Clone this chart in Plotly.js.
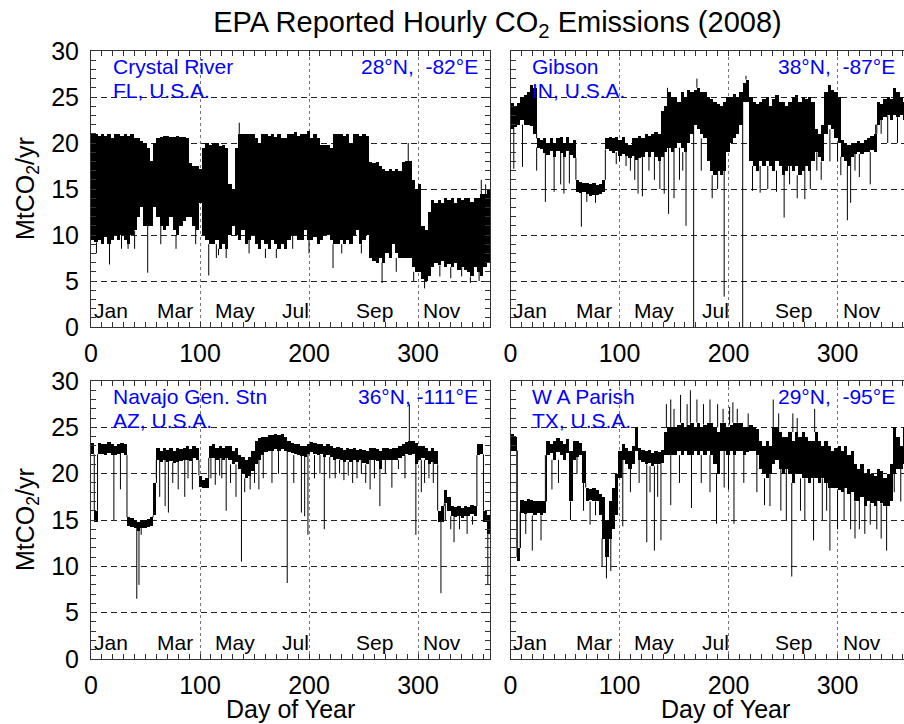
<!DOCTYPE html>
<html><head><meta charset="utf-8">
<script src="https://cdn.plot.ly/plotly-3.0.1.min.js"></script>
<style>html,body{margin:0;padding:0;overflow:hidden;background:#fff}#chart{width:912px;height:724px}</style>
</head><body><div id="chart"></div>
<script>
// sample start days (3-day windows)
const days = [0,3,6,9,12,15,18,21,24,27,30,33,36,39,42,45,48,51,54,57,60,63,66,69,72,75,78,81,84,87,90,93,96,99,102,105,108,111,114,117,120,123,126,129,132,135,138,141,144,147,150,153,156,159,162,165,168,171,174,177,180,183,186,189,192,195,198,201,204,207,210,213,216,219,222,225,228,231,234,237,240,243,246,249,252,255,258,261,264,267,270,273,276,279,282,285,288,291,294,297,300,303,306,309,312,315,318,321,324,327,330,333,336,339,342,345,348,351,354,357,360,363];
const monthNames = ["Jan","Mar","May","Jul","Sep","Nov"];
const monthDays = [18,77,132,188,260,322];
const xTickVals = [0,100,200,300];
const yTickVals = [0,5,10,15,20,25,30];

// Crystal River (FL)
const crHi = [21,21,20.8,21,20.8,21,20.5,21,21,20.8,
 21,20.8,21,20.5,20.5,20.2,20,19.5,18,20,
 20.5,20.6,20.8,20.8,20.7,20.7,20.8,20.7,20.7,20.5,
 17.8,17.5,17.5,17.2,19.5,20,19.8,20,20,19.7,
 19.8,19.5,15.5,15,19.5,21,21,21,21,21,
 20.5,20,21,21,20.8,21,20.7,21,20.5,20.5,
 21,21,21.2,20.8,21,21,21.3,20.5,21,20.5,
 19.8,19.8,19.8,19.5,21,21,21,20.8,21,20,
 21,21,20.8,21,20.8,17.9,17.8,17.9,17.5,17.2,
 17,17.2,17,17.2,17,17.9,18,18,16,15,
 15.5,11,10.5,12.5,13.8,13.5,13.8,13.5,14,13.8,
 14,13.5,14,13.8,14,14,13.6,14,14,14.5,14.5,15];
const crLo = [9.5,9.2,9.5,9,9.8,9,9.5,10,9.5,10,
 9.5,9,10,10.5,12,13,11,11,11,13,
 12,11,10.5,11,12,10.5,10,11,11.5,12,
 12,11,10.5,13.5,10,9.5,9,9,9.5,8.5,
 9,8.5,10,11,10,9.5,10.5,9,9.5,10,
 9,8.5,9.5,9,8.5,9.5,9,8.5,9,8.5,
 9.5,10,10,9.5,9.5,10.5,9.5,9.5,9.8,9,
 9.5,10,10,9.5,9,9,9.5,9,9.5,9,
 10,10.5,9,9.5,10,7.5,7.2,7,7.5,7,
 8,7.5,9,8,7.5,7.5,7.5,7.5,6.5,6,
 6,5.2,5,5.5,6.5,7,6.7,7.2,6.5,6.8,
 6.5,7,6.2,6.5,6.2,6,5.5,6.5,6,5.5,6.5,7];
const crSpDay = [5,17,28,34,40,52,64,78,96,108,115,117,124,136,145,160,170,185,200,222,230,248,267,280,291,296,306,320,330,340,348,356,358,362];
const crSpLo  = [8,6.8,8.5,8.5,8.5,5.9,9,8.5,9,5.6,7.5,7.8,7.5,21,8,7.5,7.5,8.5,8,6.4,8,8,4.8,6,18,5,4.2,5.5,5.3,5.5,4.8,5,14,14];
const crSpHi  = [9.2,9.5,10,9.5,10.5,11,11,10,12,9,9,8.5,8.5,22.2,9.5,8.5,8.5,10,9.5,9,9,9,7,7.5,20,6,5.5,6.7,6.5,6.5,5.5,6,16,15.5];

// Gibson (IN)
const gbHi = [24.3,24,24.3,25,25.2,25.5,26.3,26,20.5,20.3,
 20.5,20,20.5,20,20.5,20.6,20,20.7,20,20.3,
 16,15.8,15.7,15.6,15.5,15.6,15.4,15.5,16,20.5,
 20.7,20.5,20.6,20.3,20.6,20,19.8,20.5,20.5,20.8,
 20.5,21,20.8,21,21.2,21,23.5,24,25.5,25,
 25,24.5,25.5,25,25.8,25.5,25.8,26,25.5,25.5,
 25,24.8,24.5,24.2,24,24.5,25,25,25.3,25,
 25.5,26.5,26.9,25,24.5,24.2,24.5,24.8,25,24,
 24.8,25.2,24.5,24.5,24,24.5,25,25.2,24.5,25,
 24.8,25,24.5,21.5,21,22,25.5,26.3,25.8,25.5,
 25,20.3,20,19.8,20,20,20.2,20,20.3,20.5,
 20.8,21,24.5,24.2,24.8,25,24.8,26,25.5,25,24.5,24];
const gbLo = [21.5,21.7,22,22.5,22,22,21.8,21,19.5,19.3,
 18.9,18.7,19.1,18.5,19.1,18.9,18.5,19.1,18.7,18.4,
 14.7,14.6,14.7,14.5,14.2,14.4,14.3,14.5,14.7,19.3,
 19.1,18.9,19.1,18.6,18.8,18.6,18.4,18.6,18.1,18.4,
 18.5,19,18.5,19,18.5,18,18.5,19,19.5,19,
 19.5,20,19.5,19,20,21,22,21.5,21,20.5,
 18,17,16.5,17,16.5,17,19,20,20.5,21,
 22,24.5,24.5,18,17.5,17,18,17.5,18,17.5,
 17,18,17.5,16.5,17,17.5,17,17.5,16.5,17,
 17.5,17,18,19,18.5,18,21,22,21.5,20.5,
 20,18.5,18,17.5,18.5,18.8,19,18.8,19,19,
 19.2,19,22,22.5,22.8,23,22.5,23,22.8,23,22.5,22];
const gbSpDay = [3,11,24,32,40,46,49,54,65,70,78,97,106,117,121,132,145,150,161,168,196,213,222,229,244,251,263,270,281,300,309,312,320,330,346,355,362,
 100,110,114,127,137,141,155,158,175,185,190,236,256,275,285,293,303,316,335,340,144,171,216];
const gbSpLo  = [17.2,17.4,17,13.6,14.7,15.5,14.5,15.6,10.9,13.6,13.5,17.7,17.5,14.5,14.2,16,12.3,14,11,0,3.3,0,14.8,14.6,14.7,11.9,14,13.9,17,18,11.6,13.5,16.3,15.5,20,20,19,
 18,17,16,17,15,14.5,16,17,17,14,15,15,15.5,15,16,18,16.5,17,20,21,25.5,26,26.9];
const gbSpHi  = [22,22,19.5,19,19,19,19,19,15,14.8,14.6,19,19,18.8,18.5,18.5,19.5,19.5,20,22,17,24.5,17.5,17.5,17,17,16.5,17.5,19,20,17.5,18.5,18.8,19,23,22.8,22,
 19,18.6,18.6,18.5,18.5,19,19.5,19,20.5,16.5,17,17.5,17.5,17.5,18,21.5,18.5,18.8,22,22.5,26,27,27.3];

// Navajo Gen. Stn (AZ)
const nvHi = [23.3,16,23.3,23.2,23.2,23.4,23.2,23,23.2,23.3,
 23.2,15.3,15.2,15,14.8,15,15,15.1,15.3,19,
 22.8,22.5,22.8,22.6,22.8,22.5,22.8,22.7,22.8,23,
 22.7,23,22.8,19.8,19.3,19.5,23,23.2,22.8,23,
 22.8,23,23,22.5,22.8,22,21.8,21.5,21.8,22.5,
 23.5,23.8,24,24,24.2,24.2,24.3,24.2,24.3,24,
 23.5,23.3,23.2,23.2,23,23,23.2,23.4,23.3,23.2,
 23.2,23,23.2,23,22.8,22.9,22.8,22.6,22.8,22.7,
 22.8,22.6,22.7,22.6,22.5,22.8,22.8,22.7,22.5,22.8,
 22.8,22.7,22.8,22.8,23,23.2,23.4,23.5,23.5,23.3,
 23,23,22.8,22.5,22.8,22.5,16,16.5,18.2,17.5,
 16.5,16.4,16.5,16.3,16.5,16.4,16.6,16.5,23.2,23.2,16,15.5];
const nvLo = [22.1,14.8,22.1,22.1,22,22.2,22,22,22.1,22.2,
 22,14.4,14.2,14.1,13.8,14.1,14.1,14.2,14.4,15.5,
 21.5,21.3,21.5,21.3,21.4,21.1,21.3,21.4,21.5,21.5,
 21.4,21.7,21.5,18.6,18.4,18.4,21.7,21.7,21.5,21.7,
 21.5,21.7,21.5,21,21.3,20.5,20,19.5,19.8,20.3,
 21,21.5,22,22.3,22.5,22.5,22.7,22.5,22.7,22.5,
 22.3,22.2,22.1,22,21.9,21.8,22.1,22.3,22.1,22,
 22.1,21.8,22,21.8,21.5,21.6,21.5,21.3,21.5,21.3,
 21.5,21.3,21.5,21.1,21,21.5,21.5,21.4,20.5,21.5,
 21.5,21.5,21.5,21.5,21.7,21.9,22.1,22,22.1,21,
 21.5,21.7,21.5,21,21.3,21,14.8,14.8,16.8,16,
 15.4,15.3,15.4,15.2,15.4,15.4,15.6,15.4,22,22.1,14.8,13.5];
const nvSpDay = [21,27,42,44,46,63,68,71,80,86,93,110,114,120,124,138,146,154,166,180,193,196,199,214,224,232,240,248,256,260,265,276,292,298,310,314,321,333,338,345,364,
 60,75,89,118,128,133,141,150,158,172,186,205,210,219,228,236,244,252,270,282,288,303,306,325,330,350];
const nvSpLo  = [15,18.3,6.5,8,13.4,17.5,16.5,15.8,18.3,17.5,18.3,19.5,18.8,19.5,16,10.5,18.3,18.3,19,8.2,15.8,15.4,13.4,14,19.5,19.3,19,20,18.3,19.5,16.5,18.5,23.5,13.4,19.5,19,7.1,12.6,14,13.5,8,
 19.5,19,19.5,19.8,19,17.5,18,19,19.5,20,19,19.5,20,19.5,20,19.8,19.5,19,20,20.5,19.5,18,19,15,14,14.5];
const nvSpHi  = [22.5,22.7,14.2,14.5,14.5,21.8,21.8,21.8,21.9,21.9,22,22.2,22,22,22,20.5,20.3,22,23,22.8,22.4,22.3,22.4,22.3,22,21.8,22,21.6,22,22,21,22,27.5,21.5,21.5,21.5,15,15.7,15.6,15.8,13.5,
 21.5,21.2,21.5,21.7,21,21,19.5,21,22,22.5,22,22,22,21.8,21.5,21.3,21.5,21,21.5,21.5,22,21.5,21.5,16.8,15.4,15.4];

// W A Parish (TX)
const wpHi = [24.3,24,12,17.2,17,17.3,17.2,17,17.1,17,
 17,23.5,23.2,23.5,23.8,23.5,23.2,23.7,22.5,23.5,
 23.5,23.3,22.5,18.5,18.3,18.5,18.2,17.8,17.5,15,
 17,18.5,20,22.5,23.2,22.8,22.5,23,25,22.8,
 22.6,22.5,22.6,22.2,22.5,22.3,22.6,24.5,25,25,
 25,25.2,25.5,25,25.3,25.5,25,25.5,25,25.3,
 25.5,25.5,25,24.5,25.5,25.5,25,25.3,25.5,25.5,
 25.5,25,25,25.2,25,24.8,23.5,23,23.5,23,
 25,25,24.5,24,24,24.5,23.5,24.5,24,24.5,
 24,23.5,23.5,24.5,23.5,23,23.5,23,22.5,22.8,
 23,22.5,23,22,22.5,21,20.5,21,20,20.5,
 20,19.8,20.5,20.3,19.5,20,21,25,24,23,25,24];
const wpLo = [22.5,22.5,10.6,15.8,15.7,15.8,15.8,15.5,15.8,15.5,
 15.8,22,22.2,21.5,22.3,22,21.5,22.2,17,21.5,
 21.8,22,19,17,17.2,17,17,15.5,13,11,
 13,14,15.5,19.5,21.5,21,20.5,21,22.5,21.5,
 21.3,21,21.2,20.8,21,21,21.2,22,22,22,
 22,22.5,22,22.5,22,22,22.5,22,22.5,22,
 22.5,22,21,20,22.5,22.5,22,22.5,22,22.5,
 22.5,22,22.3,22.5,22.5,22,20.5,20,19.5,20,
 21,21.5,20.5,20,20.5,20,19,20,20,19.5,
 19.5,19,19.5,19.5,19,19.5,19,18.5,18.5,18.5,
 18.2,18,18.5,17.8,18,17,17,17.5,16.5,17,
 16.8,16.5,17,16.8,16.5,16.5,17,20,20.5,20.5,21,21];
const wpSpDay = [6,9,14,20,28,32,38,55,73,84,88,92,103,125,132,138,147,166,189,200,205,233,258,266,278,293,300,320,330,345,
 143,147,150,156,162,165,171,177,183,190,195,201,204,208,218,241,246,259,263,279,
 44,61,67,78,110,118,128,135,155,175,183,196,214,226,238,248,253,270,286,290,306,312,316,325,336,340,352,358];
const wpSpLo  = [11,12,13.5,11.7,12.8,17,18.3,15,14.5,10,8.7,9.5,14.3,12.6,11.7,12.8,16.6,16.3,14.6,18.3,14.6,16.6,8.9,16,12.8,11.7,14,14,14.5,11.7,
 25,25,25,25.5,25,25.5,25.5,25.3,25.5,25,25.5,25.3,25.5,25.5,25,25,24.5,24.5,24,24.5,
 19,20,16,15.5,18,19,18,17.5,19,19,18,18.5,19,18,16.5,16,15,15,15,16,15,14,13,13.5,14,13,18,17];
const wpSpHi  = [22.5,16,15.8,15.5,15.5,22,21.5,17,17,13,11,13,21.5,21,20.8,21.2,22,22,20,22,22,19.5,19,19.5,19.5,18.5,18.2,17.5,16.8,16.5,
 27.5,28,27,28.5,27.5,29,28,27.5,28,27.5,27,27.2,27.7,27,26.5,28,26.5,26.5,26,27,
 21.5,21.8,19,17,20.5,21.5,20.8,21,22,22,22,22.5,22,22,20,20.5,20.5,19.5,19.5,19,18.5,18,17,16.5,17,16.8,20,20.5];

const stations = [
  {name:"Crystal River", state:"FL, U.S.A.", coord:"28°N,\u00a0\u00a0-82°E", hi:crHi, lo:crLo, sd:crSpDay, sl:crSpLo, sh:crSpHi, ax:""},
  {name:"Gibson", state:"IN, U.S.A.", coord:"38°N,\u00a0\u00a0-87°E", hi:gbHi, lo:gbLo, sd:gbSpDay, sl:gbSpLo, sh:gbSpHi, ax:"2"},
  {name:"Navajo Gen. Stn", state:"AZ, U.S.A.", coord:"36°N,\u00a0-111°E", hi:nvHi, lo:nvLo, sd:nvSpDay, sl:nvSpLo, sh:nvSpHi, ax:"3"},
  {name:"W A Parish", state:"TX, U.S.A.", coord:"29°N,\u00a0\u00a0-95°E", hi:wpHi, lo:wpLo, sd:wpSpDay, sl:wpSpLo, sh:wpSpHi, ax:"4"}
];

const FONT = "Liberation Sans, Arial, Helvetica, sans-serif";
const W = 912, H = 724;
const traces = [];
const annotations = [];
stations.forEach((s, k) => {
  const xa = "x" + s.ax, ya = "y" + s.ax;
  traces.push({type:"bar", x:days, base:s.lo, y:s.hi.map((h,i)=>h - s.lo[i]), width:3, offset:0,
    marker:{color:"#000", line:{width:0}}, xaxis:xa, yaxis:ya, hoverinfo:"skip"});
  const sx = [], sy = [];
  s.sd.forEach((d,i)=>{ sx.push(d,d,null); sy.push(s.sl[i], s.sh[i], null); });
  for (let i = 0; i < days.length - 1; i++) {
    const top = Math.min(s.hi[i], s.hi[i+1]), bot = Math.max(s.lo[i], s.lo[i+1]);
    if (top < bot) { sx.push(days[i+1], days[i+1], null); sy.push(top, bot, null); }
  }
  traces.push({type:"scatter", mode:"lines", x:sx, y:sy, line:{color:"#000", width:1}, xaxis:xa, yaxis:ya, hoverinfo:"skip", connectgaps:false});
  const right = (k % 2 === 1);
  annotations.push({xref:xa, yref:ya, x:18.3, y:28.3, xanchor:"left", yanchor:"middle", text:s.name, showarrow:false, font:{family:FONT, size:21, color:"#0000ff"}});
  annotations.push({xref:xa, yref:ya, x:18.3, y:25.75, xanchor:"left", yanchor:"middle", text:s.state, showarrow:false, font:{family:FONT, size:21, color:"#0000ff"}});
  annotations.push({xref:xa, yref:ya, x:right ? 354.6 : 357, y:28.3, xanchor:"right", yanchor:"middle", text:s.coord, showarrow:false, font:{family:FONT, size:21, color:"#0000ff"}});
  monthNames.forEach((m,i)=>{
    annotations.push({xref:xa, yref:ya, x:monthDays[i], y:1.8, xanchor:"center", yanchor:"middle", text:m, showarrow:false, font:{family:FONT, size:21, color:"#000"}});
  });
});
[189, 520].forEach(yc => annotations.push({xref:"paper", yref:"paper", x:27/W, y:(H-yc)/H, xanchor:"center", yanchor:"middle", textangle:-90,
  text:"MtCO<sub>2</sub>/yr", showarrow:false, font:{family:FONT, size:25, color:"#000"}}));
[290, 725].forEach(xc => annotations.push({xref:"paper", yref:"paper", x:xc/W, y:0, xanchor:"center", yanchor:"bottom", borderpad:0,
  text:"Day of Year", showarrow:false, font:{family:FONT, size:25, color:"#000"}}));

function xAxis(dom, anchor){
  return {domain:dom, anchor:anchor, range:[0,366], tickmode:"array", tickvals:xTickVals, ticks:"inside", ticklen:5, tickcolor:"#333",
    showline:true, linecolor:"#333", linewidth:1, mirror:"ticks", showgrid:true, gridcolor:"#777", griddash:"dot", gridwidth:1,
    zeroline:false, tickfont:{family:FONT, size:25, color:"#000"}, ticklabelstandoff:4,
    minor:{dtick:10, tick0:0, ticks:"inside", ticklen:5, tickcolor:"#333", showgrid:false}, fixedrange:true};
}
function yAxis(dom, anchor, labels){
  return {domain:dom, anchor:anchor, range:[0,30], tickmode:"array", tickvals:yTickVals, ticks:"inside", ticklen:5, tickcolor:"#333",
    showline:true, linecolor:"#333", linewidth:1, mirror:"ticks", showgrid:true, gridcolor:"#222", griddash:"6px,4px", gridwidth:1,
    zeroline:false, showticklabels:labels, tickfont:{family:FONT, size:25, color:"#000"}, ticklabelstandoff:6,
    minor:{dtick:1, tick0:0, ticks:"inside", ticklen:5, tickcolor:"#333", showgrid:false}, fixedrange:true};
}
const dL = [91/W, 490/W], dR = [510.5/W, 909.5/W];
const dT = [(H-327)/H, (H-51)/H], dB = [(H-659)/H, (H-381)/H];
const layout = {
  width:W, height:H, margin:{l:0,r:0,t:0,b:0}, paper_bgcolor:"#fff", plot_bgcolor:"#fff", showlegend:false,
  font:{family:FONT, color:"#000"},
  title:{text:"EPA Reported Hourly CO<sub>2</sub> Emissions (2008)", font:{family:FONT, size:29, color:"#000"},
    xref:"container", yref:"container", x:497.5/W, xanchor:"center", y:1-22/H, yanchor:"middle"},
  xaxis:xAxis(dL,"y"), yaxis:yAxis(dT,"x",true),
  xaxis2:xAxis(dR,"y2"), yaxis2:yAxis(dT,"x2",false),
  xaxis3:xAxis(dL,"y3"), yaxis3:yAxis(dB,"x3",true),
  xaxis4:xAxis(dR,"y4"), yaxis4:yAxis(dB,"x4",false),
  annotations:annotations, bargap:0
};
Plotly.newPlot("chart", traces, layout, {displayModeBar:false, staticPlot:true});
</script></body></html>
